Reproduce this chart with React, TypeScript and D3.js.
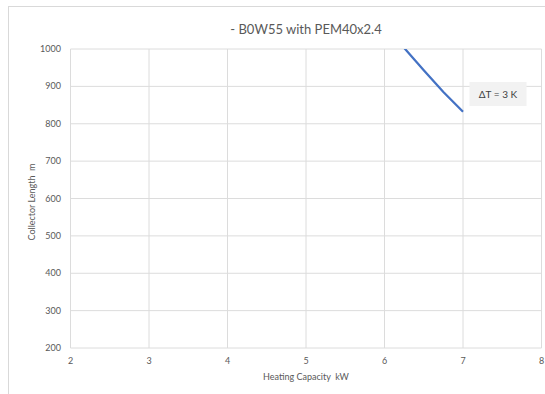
import React from "react";
import * as d3 from "d3";

const title = "- B0W55 with PEM40x2.4";
const xTicks = [2, 3, 4, 5, 6, 7, 8];
const yTicks = [200, 300, 400, 500, 600, 700, 800, 900, 1000];
const capacityKW = [6.0, 6.25, 6.5, 6.75, 7.0];
const lengthM = [1058, 1003, 943, 885, 832];
const seriesLabel = "ΔT = 3 K";

export default function App() {
  const W = 545, H = 394;
  const left = 70.5, right = 541.5, top = 49, bottom = 348;
  const x = d3.scaleLinear().domain([2, 8]).range([left, right]);
  const y = d3.scaleLinear().domain([200, 1000]).range([bottom, top]);
  const line = d3
    .line<number>()
    .x((_, i) => x(capacityKW[i]))
    .y((d) => y(d));
  const font = "Lato, 'Open Sans', sans-serif";
  const grey = "#595959";
  return (
    <svg width={W} height={H} style={{ position: "absolute", left: 0, top: 0 }}>
      <rect x={0} y={0} width={W} height={H} fill="#fff" />
      <rect x={8.5} y={6.5} width={W + 10} height={H + 10} fill="#fff" stroke="#d9d9d9" />
      <defs>
        <clipPath id="plot">
          <rect x={left} y={top} width={right - left} height={bottom - top} />
        </clipPath>
      </defs>
      {xTicks.map((t) => (
        <line key={"gx" + t} x1={x(t)} x2={x(t)} y1={top} y2={bottom} stroke="#dcdcdc" strokeWidth={1} />
      ))}
      {yTicks.map((t) => (
        <line key={"gy" + t} x1={left} x2={right} y1={y(t)} y2={y(t)} stroke="#dcdcdc" strokeWidth={1} />
      ))}
      {xTicks.map((t) => (
        <text key={"tx" + t} x={x(t)} y={363.5} fontSize={9} fill={grey} textAnchor="middle" fontFamily={font}>
          {t}
        </text>
      ))}
      {yTicks.map((t) => (
        <text key={"ty" + t} x={61} y={y(t) + 3} fontSize={9} fill={grey} textAnchor="end" fontFamily={font}>
          {t}
        </text>
      ))}
      <path d={line(lengthM) || ""} fill="none" stroke="#4472C4" strokeWidth={2.25} clipPath="url(#plot)" />
      <rect x={469.5} y={82} width={57} height={24} fill="#f2f2f2" />
      <text x={498} y={97.5} fontSize={10} fill="#404040" textAnchor="middle" fontFamily={font}>
        {seriesLabel}
      </text>
      <text x={306} y={33.5} fontSize={13} fill={grey} textAnchor="middle" fontFamily={font}>
        {title}
      </text>
      <text
        x={306}
        y={380}
        fontSize={9}
        fill={grey}
        textAnchor="middle"
        fontFamily={font}
        style={{ whiteSpace: "pre" }}
      >
        {"Heating Capacity  kW"}
      </text>
      <text
        transform="translate(35,202) rotate(-90)"
        fontSize={9}
        fill={grey}
        textAnchor="middle"
        fontFamily={font}
        style={{ whiteSpace: "pre" }}
      >
        {"Collector Length  m"}
      </text>
    </svg>
  );
}
